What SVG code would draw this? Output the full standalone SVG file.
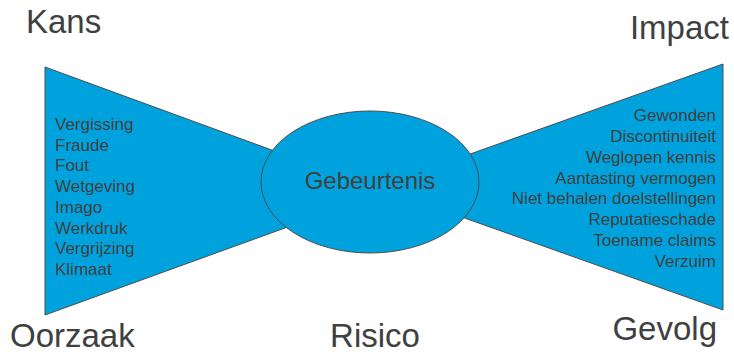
<svg xmlns="http://www.w3.org/2000/svg" width="734" height="354" viewBox="0 0 734 354">
<style>
.shape{fill:#00A2DE;stroke:#4D4D4D;stroke-width:1}
.t{font-family:"Liberation Sans",Arial,sans-serif;fill:#404040}
.h{font-size:33px}
.l{font-size:17px}
</style>
<rect width="734" height="354" fill="#fff"/>
<g id="oorzaken">
<polygon class="shape" points="45,67 340,175 340,208 45,315"/>
<text class="t l" x="55" y="130">Vergissing</text>
<text class="t l" x="55" y="150.7">Fraude</text>
<text class="t l" x="55" y="171.4">Fout</text>
<text class="t l" x="55" y="192.1">Wetgeving</text>
<text class="t l" x="55" y="212.8">Imago</text>
<text class="t l" x="55" y="233.5">Werkdruk</text>
<text class="t l" x="55" y="254.2">Vergrijzing</text>
<text class="t l" x="55" y="274.9">Klimaat</text>
</g>
<g id="gevolgen">
<polygon class="shape" points="400,179 723,64 723,310 400,195"/>
<g text-anchor="end">
<text class="t l" x="716" y="121">Gewonden</text>
<text class="t l" x="716" y="141.9">Discontinuiteit</text>
<text class="t l" x="716" y="162.7">Weglopen kennis</text>
<text class="t l" x="716" y="183.6">Aantasting vermogen</text>
<text class="t l" x="716" y="204.4">Niet behalen doelstellingen</text>
<text class="t l" x="716" y="225.3">Reputatieschade</text>
<text class="t l" x="716" y="246.1">Toename claims</text>
<text class="t l" x="716" y="267">Verzuim</text>
</g>
</g>
<g id="gebeurtenis">
<ellipse class="shape" cx="370" cy="182" rx="109" ry="71"/>
<text class="t" x="370" y="189" font-size="24" text-anchor="middle">Gebeurtenis</text>
</g>
<g id="kopjes">
<text class="t h" x="26" y="33">Kans</text>
<text class="t h" x="729" y="39" text-anchor="end">Impact</text>
<text class="t h" x="10" y="347">Oorzaak</text>
<text class="t h" x="375" y="347" text-anchor="middle">Risico</text>
<text class="t h" x="717" y="340" text-anchor="end">Gevolg</text>
</g>
<g id="connectors"/>
</svg>
